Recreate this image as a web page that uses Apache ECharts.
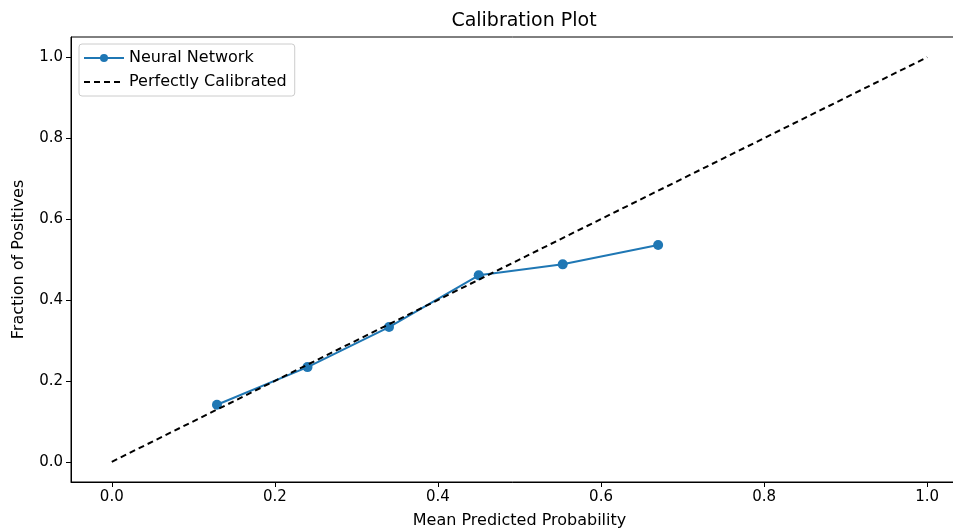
<!DOCTYPE html>
<html>
<head>
<meta charset="utf-8">
<script src="https://cdn.jsdelivr.net/npm/echarts@6/dist/echarts.min.js"></script>
<style>
  html, body { margin: 0; padding: 0; background: #fff; }
  #chart { width: 953px; height: 531px; }
</style>
</head>
<body>
<div id="chart"></div>
<script>
// mean predicted probability per bin and observed fraction of positives
const meanPredicted = [0.129, 0.24, 0.34, 0.45, 0.553, 0.67]
const fractionPositives = [0.141, 0.234, 0.333, 0.461, 0.488, 0.536]
const diagonal = [[0, 0], [1, 1]]
const tickValues = [0, 0.2, 0.4, 0.6, 0.8, 1.0]

const chart = echarts.init(document.getElementById('chart'), null, { renderer: 'canvas' })

const axisFont = { fontFamily: 'DejaVu Sans', fontSize: 15, color: '#000' }

const option = {
    animation: false,
    backgroundColor: '#fff',
    title: {
        text: 'Calibration Plot',
        left: 519,
        top: 7,
        textAlign: 'center',
        textStyle: { fontFamily: 'DejaVu Sans', fontSize: 19, fontWeight: 'normal', color: '#000' }
    },
    legend: {
        left: 79,
        top: 44,
        orient: 'vertical',
        itemWidth: 40,
        itemHeight: 10,
        itemGap: 8,
        padding: [6, 8, 6, 4],
        borderColor: '#ccc',
        borderWidth: 1,
        borderRadius: 3,
        textStyle: { fontFamily: 'DejaVu Sans', fontSize: 16, color: '#000' },
        data: [
            'Neural Network',
            { name: 'Perfectly Calibrated', itemStyle: { opacity: 0 } }
        ]
    },
    grid: {
        left: 71, width: 897, top: 37, bottom: 49,
        outerBoundsMode: 'none', containLabel: false,
        show: true, borderColor: '#000', borderWidth: 1
    },
    xAxis: {
        type: 'value',
        min: -0.05,
        max: 1.05,
        name: 'Mean Predicted Probability',
        nameLocation: 'middle',
        nameGap: 31,
        nameTextStyle: { fontFamily: 'DejaVu Sans', fontSize: 16, color: '#000' },
        axisLine: { onZero: false, lineStyle: { color: '#000', width: 1 } },
        axisTick: { show: true, customValues: tickValues, length: 5, inside: false, lineStyle: { color: '#000' } },
        axisLabel: { customValues: tickValues, margin: 8, formatter: v => v.toFixed(1), ...axisFont },
        splitLine: { show: false }
    },
    yAxis: {
        type: 'value',
        min: -0.05,
        max: 1.05,
        name: 'Fraction of Positives',
        nameLocation: 'middle',
        nameGap: 44,
        nameTextStyle: { fontFamily: 'DejaVu Sans', fontSize: 16, color: '#000' },
        axisLine: { show: true, onZero: false, lineStyle: { color: '#000', width: 1 } },
        axisTick: { show: true, customValues: tickValues, length: 5, inside: false, lineStyle: { color: '#000' } },
        axisLabel: { customValues: tickValues, margin: 8, formatter: v => v.toFixed(1), ...axisFont },
        splitLine: { show: false }
    },
    series: [
        {
            name: 'Neural Network',
            type: 'line',
            data: meanPredicted.map((x, i) => [x, fractionPositives[i]]),
            symbol: 'circle',
            symbolSize: 10,
            itemStyle: { color: '#1f77b4' },
            lineStyle: { color: '#1f77b4', width: 2 },
            z: 3
        },
        {
            name: 'Perfectly Calibrated',
            type: 'line',
            data: diagonal,
            symbol: 'none',
            itemStyle: { color: '#000' },
            lineStyle: { color: '#000', width: 2, type: [6, 4] },
            z: 4
        }
    ]
}

chart.setOption(option)
</script>
</body>
</html>
